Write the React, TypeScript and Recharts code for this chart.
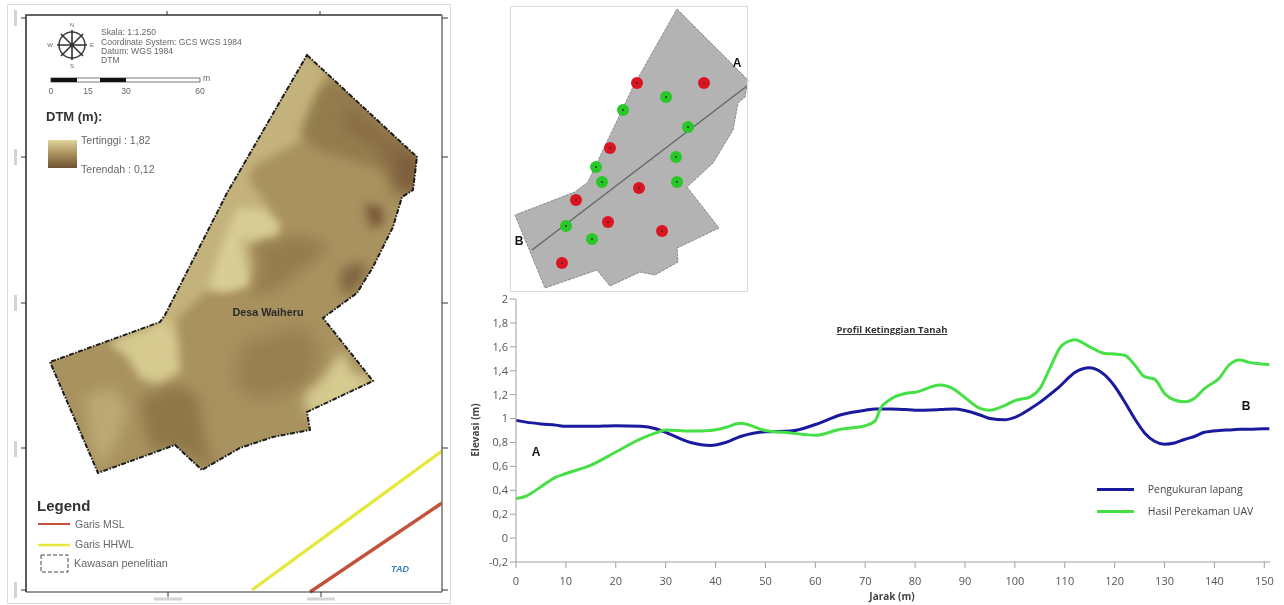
import React from "react";
import { LineChart, Line, XAxis, YAxis, ScatterChart, Scatter, Legend } from "recharts";

const distance = [0,2,5,8,10,15,20,25,28,30,35,39,42,45,50,55,60,65,70,72,73,75,78,80,85,88,90,93,95,98,100,103,105,107,109,111,112,115,118,120,122,124,126,128,130,132,134,136,138,141,143,145,147,150,151];
const lapangan = [0.985,0.97,0.955,0.945,0.935,0.935,0.94,0.935,0.915,0.885,0.8,0.775,0.8,0.85,0.89,0.895,0.95,1.03,1.07,1.08,1.08,1.08,1.075,1.07,1.075,1.08,1.067,1.03,1.0,0.99,1.01,1.08,1.135,1.2,1.27,1.35,1.385,1.425,1.365,1.27,1.14,1.0,0.88,0.81,0.785,0.795,0.825,0.85,0.885,0.9,0.905,0.91,0.91,0.915,0.915];
const uav = [0.33,0.35,0.43,0.51,0.54,0.61,0.72,0.83,0.88,0.905,0.895,0.9,0.925,0.96,0.9,0.88,0.86,0.91,0.94,0.98,1.08,1.16,1.21,1.22,1.28,1.24,1.175,1.085,1.07,1.11,1.15,1.18,1.25,1.42,1.59,1.65,1.66,1.6,1.545,1.54,1.53,1.45,1.35,1.33,1.21,1.155,1.14,1.17,1.25,1.34,1.45,1.49,1.47,1.455,1.45];
const yTicks = [-0.2,0,0.2,0.4,0.6,0.8,1,1.2,1.4,1.6,1.8,2];
const xTicks = [0,10,20,30,40,50,60,70,80,90,100,110,120,130,140,150];
const profile = distance.map((jarak, i) => ({ jarak, lapangan: lapangan[i], uav: uav[i] }));
const pt = (a: number[][]) => a.map(([x, y]) => ({ x, y }));

const dtmArea = pt([[307,55],[417,157],[413,190],[402,197],[393,227],[373,267],[357,293],[323,318],[373,381],[307,412],[310,430],[273,437],[240,448],[202,470],[175,445],[98,473],[50,362],[160,322],[165,315],[227,193],[307,55]]);
const dtmPatches: [string, number, number[][]][] = [
  ["#c4b27b", 5, [[295,45],[328,70],[318,100],[303,140],[255,165],[248,178],[272,212],[262,232],[250,245],[254,266],[238,288],[205,292],[178,318],[176,340],[155,330],[150,300],[220,170]]],
  ["#d8cd95", 4, [[238,208],[262,210],[280,222],[278,238],[252,242],[240,236],[244,260],[252,285],[225,292],[208,288],[222,245]]],
  ["#d6ca90", 5, [[165,318],[178,340],[180,372],[160,385],[140,378],[128,358],[108,342],[160,322]]],
  ["#bca973", 7, [[85,395],[115,388],[128,410],[118,440],[100,470],[90,440]]],
  ["#d6ca90", 6, [[342,350],[352,372],[380,382],[330,412],[305,412],[304,390],[322,378]]],
  ["#8f7748", 7, [[140,398],[175,385],[198,395],[205,440],[215,470],[180,450],[150,450]]],
  ["#957d4e", 7, [[255,245],[300,235],[330,245],[310,265],[275,290],[250,296],[262,270]]],
  ["#937b4d", 6, [[322,85],[345,80],[420,155],[413,190],[395,200],[385,170],[320,150],[300,135],[312,105]]],
  ["#8a6c45", 7, [[345,105],[420,158],[415,195],[395,185],[375,145],[345,130]]],
  ["#7e5e3c", 6, [[396,150],[420,160],[415,190],[400,188]]],
  ["#7b5b3a", 5, [[364,204],[382,206],[384,224],[370,228]]],
  ["#806540", 6, [[342,268],[362,262],[368,272],[350,296],[340,288]]],
  ["#987f50", 9, [[240,345],[300,325],[320,350],[310,385],[260,400],[235,385]]],
];
const shore = [
  { color: "#e6e83c", points: pt([[252,590],[442,451]]) },
  { color: "#c4523a", points: pt([[310,592],[442,503]]) },
];
const surveyArea = pt([[677,9],[748,80],[745,97],[738,103],[733,130],[713,163],[687,187],[719,228],[677,248],[678,262],[655,275],[640,272],[610,286],[597,270],[545,288],[515,215],[575,192],[588,182],[633,87],[677,9]]);
const sectionAB = pt([[532,250],[747,86]]);
const greenPoints = pt([[666,97],[623,110],[688,127],[676,157],[596,167],[602,182],[677,182],[566,226],[592,239]]);
const redPoints = pt([[637,83],[704,83],[610,148],[576,200],[639,188],[608,222],[662,231],[562,263]]);

const pathOf = (points: { x: number; y: number }[]) =>
  points.map((p, i) => `${i ? "L" : "M"}${p.x} ${p.y}`).join(" ") + " Z";
const noDot = () => null;
const Dot = (color: string) => (p: any) => (
  <g>
    <circle cx={p.cx} cy={p.cy} r={6} fill={color} />
    <circle cx={p.cx} cy={p.cy} r={1} fill="#303030" />
  </g>
);
const font = "'Open Sans', sans-serif";
const mapFont = "'Liberation Sans', sans-serif";
const T = (p: any) => <text fontFamily={mapFont} fill="#666" fontSize={8.6} {...p} />;

const MapLayer = () => (
  <ScatterChart width={1284} height={605} margin={{ top: 0, right: 0, bottom: 0, left: 0 }} style={{ position: "absolute", left: 0, top: 0 }}>
    <XAxis type="number" dataKey="x" domain={[0, 1284]} hide />
    <YAxis type="number" dataKey="y" domain={[0, 605]} reversed hide />
    <Scatter data={dtmArea} shape={noDot} isAnimationActive={false} line={(p: any) => (
      <g>
        <defs>
          <clipPath id="dtmClip"><path d={pathOf(p.points)} /></clipPath>
          {[4,5,6,7,9].map((s) => <filter key={s} id={`soft${s}`} x="-40%" y="-40%" width="180%" height="180%"><feGaussianBlur stdDeviation={s} /></filter>)}
        </defs>
        <path d={pathOf(p.points)} fill="#a8925f" />
      </g>
    )} />
    {dtmPatches.map(([color, soft, poly], i) => (
      <Scatter key={i} data={pt(poly)} shape={noDot} isAnimationActive={false} line={(p: any) => (
        <g clipPath="url(#dtmClip)"><path d={pathOf(p.points)} fill={color} filter={`url(#soft${soft})`} /></g>
      )} />
    ))}
    <Scatter data={dtmArea} shape={noDot} isAnimationActive={false} line={(p: any) => (
      <path d={pathOf(p.points)} fill="none" stroke="#1c1c1c" strokeWidth={2} strokeDasharray="5 1.5 1.5 1.5" />
    )} />
    {shore.map((s) => (
      <Scatter key={s.color} data={s.points} shape={noDot} isAnimationActive={false} line={{ stroke: s.color, strokeWidth: 3.4 }} />
    ))}
    <Scatter data={surveyArea} shape={noDot} isAnimationActive={false} line={(p: any) => (
      <path d={pathOf(p.points)} fill="#b3b3b3" stroke="#8a8a8a" strokeWidth={1} strokeDasharray="3 1" />
    )} />
    <Scatter data={sectionAB} shape={noDot} isAnimationActive={false} line={{ stroke: "#5f6b66", strokeWidth: 1.5 }} />
    <Scatter data={greenPoints} shape={Dot("#28c828")} isAnimationActive={false} />
    <Scatter data={redPoints} shape={Dot("#dc1420")} isAnimationActive={false} />
  </ScatterChart>
);

const Furniture = () => (
  <svg width={1284} height={605} style={{ position: "absolute", left: 0, top: 0, pointerEvents: "none" }}>
    <defs>
      <linearGradient id="dtmRamp" x1="0" y1="0" x2="0" y2="1">
        <stop offset="0" stopColor="#e0d69c" /><stop offset="0.5" stopColor="#a88f5c" /><stop offset="1" stopColor="#6d5232" />
      </linearGradient>
    </defs>
    <rect x={7.5} y={4.5} width={443} height={599} fill="none" stroke="#dcdcdc" />
    <rect x={510.5} y={6.5} width={237} height={285} fill="none" stroke="#dcdcdc" />
    <path d="M26 592V15H442" fill="none" stroke="#333" strokeWidth={1.6} />
    <path d="M26 592H442" fill="none" stroke="#333" strokeWidth={1.2} />
    <path d="M442 15V592" fill="none" stroke="#7a7a7a" strokeWidth={1.6} />
    <path d="M167 15v-4M320 15v-4M168 592v5M321 592v5M26 18h-5M26 157h-5M26 303h-5M26 448h-5M26 590h-5M442 18h6M442 157h6M442 303h6M442 448h6M442 590h6" stroke="#333" strokeWidth={1} />
    <path d="M15.5 10v16M15.5 149v16M15.5 295v16M15.5 441v16M15.5 582v16M154 599h28M307 599h28" stroke="#d4d4d4" strokeWidth={3} />
    <circle cx={72} cy={45} r={13} fill="none" stroke="#444" strokeWidth={1.5} />
    <path d="M72 30V60M57 45H87M61 34L83 56M83 34L61 56" stroke="#333" strokeWidth={1.6} />
    <T x={72} y={27} textAnchor="middle" fontSize={6}>N</T>
    <T x={50} y={47} textAnchor="middle" fontSize={6}>W</T>
    <T x={92} y={47} textAnchor="middle" fontSize={6}>E</T>
    <T x={72} y={68} textAnchor="middle" fontSize={6}>S</T>
    <T x={101} y={35}>Skala: 1:1.250</T>
    <T x={101} y={45}>Coordinate System: GCS WGS 1984</T>
    <T x={101} y={54}>Datum: WGS 1984</T>
    <T x={101} y={63}>DTM</T>
    <rect x={51} y={78} width={149} height={4} fill="#fff" stroke="#555" strokeWidth={0.8} />
    <rect x={51} y={78} width={26} height={4} fill="#111" />
    <rect x={100} y={78} width={26} height={4} fill="#111" />
    <T x={51} y={94} textAnchor="middle">0</T>
    <T x={88} y={94} textAnchor="middle">15</T>
    <T x={126} y={94} textAnchor="middle">30</T>
    <T x={200} y={94} textAnchor="middle">60</T>
    <T x={203} y={81}>m</T>
    <T x={46} y={121} fontSize={13} fontWeight="bold" fill="#333">DTM (m):</T>
    <rect x={48} y={140} width={29} height={28} fill="url(#dtmRamp)" />
    <T x={81} y={144} fontSize={10.6}>Tertinggi : 1,82</T>
    <T x={81} y={173} fontSize={10.6}>Terendah : 0,12</T>
    <T x={268} y={316} textAnchor="middle" fontSize={10.8} fontWeight="bold" fill="#2a2a2a">Desa Waiheru</T>
    <T x={37} y={511} fontSize={15} fontWeight="bold" fill="#333">Legend</T>
    <path d="M38 524H70" stroke="#c4523a" strokeWidth={2} />
    <path d="M38 545H70" stroke="#e6e83c" strokeWidth={2.5} />
    <rect x={41} y={555} width={27} height={17} fill="none" stroke="#444" strokeDasharray="4 2" />
    <T x={75} y={528} fontSize={10.5}>Garis MSL</T>
    <T x={75} y={548} fontSize={10.5}>Garis HHWL</T>
    <T x={74} y={567} fontSize={10.8}>Kawasan penelitian</T>
    <T x={400} y={572} textAnchor="middle" fontSize={9} fontStyle="italic" fontWeight="bold" fill="#3a7fb5">TAD</T>
    <T x={737} y={67} textAnchor="middle" fontSize={12} fontWeight="bold" fill="#111">A</T>
    <T x={519} y={245} textAnchor="middle" fontSize={12} fontWeight="bold" fill="#111">B</T>
    <T x={536} y={456} textAnchor="middle" fontSize={12} fontWeight="bold" fill="#111">A</T>
    <T x={1246} y={410} textAnchor="middle" fontSize={12} fontWeight="bold" fill="#111">B</T>
    <text x={892} y={333} textAnchor="middle" fontFamily={font} fontSize={9.5} fontWeight="bold" fill="#333" textDecoration="underline">Profil Ketinggian Tanah</text>
    <text x={892} y={600} textAnchor="middle" fontFamily={font} fontSize={10} fontWeight="bold" fill="#444">Jarak (m)</text>
    <text x={479} y={430} textAnchor="middle" fontFamily={font} fontSize={10} fontWeight="bold" fill="#444" transform="rotate(-90 479 430)">Elevasi (m)</text>
  </svg>
);

const ProfileLegend = ({ payload }: any) => (
  <div style={{ fontFamily: font, fontSize: 10.5, color: "#444" }}>
    {(payload || []).slice().sort((a: any, b: any) => (a.dataKey === "lapangan" ? -1 : b.dataKey === "lapangan" ? 1 : 0)).map((e: any) => (
      <div key={e.value} style={{ display: "flex", alignItems: "center", height: 22 }}>
        <span style={{ display: "inline-block", width: 37, height: 3, background: e.color, marginRight: 14 }} />
        {e.value}
      </div>
    ))}
  </div>
);

export default function App() {
  return (
    <div style={{ position: "absolute", left: 0, top: 0, width: 1284, height: 605, background: "#fff", overflow: "hidden", filter: "blur(0.45px)" }}>
      <MapLayer />
      <LineChart width={818.3} height={310} data={profile} margin={{ top: 14, right: 14, bottom: 0, left: 0 }} style={{ position: "absolute", left: 465.7, top: 285 }}>
        <XAxis type="number" dataKey="jarak" domain={[0, 151.2]} ticks={xTicks} interval={0} height={33} stroke="#a0a0a0" tickSize={6} tickMargin={9} tick={{ fill: "#555", fontSize: 11, fontFamily: font }} />
        <YAxis type="number" domain={[-0.2, 2]} ticks={yTicks} interval={0} width={50} stroke="#a0a0a0" tickSize={6} tick={{ fill: "#555", fontSize: 11, fontFamily: font }} tickFormatter={(v: number) => String(v).replace(".", ",")} />
        <Legend content={<ProfileLegend />} layout="vertical" align="center" verticalAlign="middle" wrapperStyle={{ position: "absolute", left: 631, top: 193, width: 190 }} />
        <Line type="monotone" dataKey="lapangan" name="Pengukuran lapang" stroke="#1a1a9e" strokeWidth={3} dot={false} isAnimationActive={false} />
        <Line type="monotone" dataKey="uav" name="Hasil Perekaman UAV" stroke="#46e046" strokeWidth={3} dot={false} isAnimationActive={false} />
      </LineChart>
      <Furniture />
    </div>
  );
}
